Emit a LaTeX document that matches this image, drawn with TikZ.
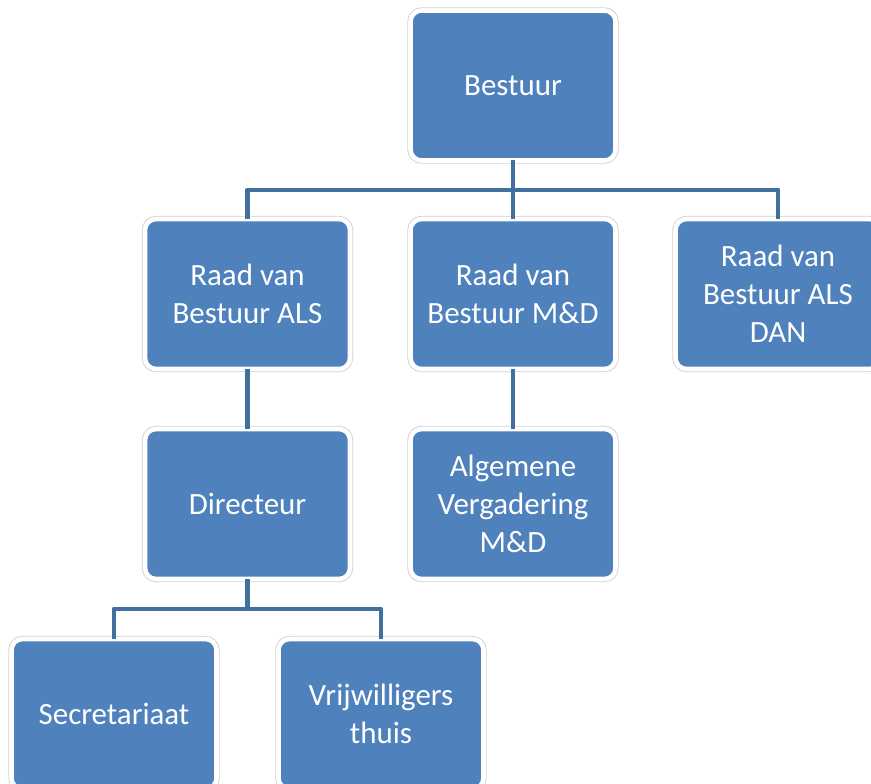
\documentclass[tikz,border=0pt]{standalone}
\usepackage{fontspec}
\setmainfont{Carlito}
\definecolor{boxblue}{HTML}{4F81BD}
\definecolor{linkblue}{HTML}{41709F}
\begin{document}
\begin{tikzpicture}[line join=round,line cap=rect,
	box/.style={fill=boxblue,draw=white,line width=2.6pt,rounded corners=0.22cm,
		minimum width=4.1cm,minimum height=3cm,align=center,text=white,
		font=\fontsize{17.6}{21.5}\selectfont,
		preaction={draw=black!18,line width=3.6pt}},
	link/.style={draw=linkblue,line width=2.8pt}]
			\useasboundingbox (0,0) rectangle (17.42,-15.66);
			\coordinate (bar) at (10.26,-3.80);
			\coordinate (lowbar) at (4.95,-12.18);
			\node[box] (bestuur) at (10.26,-1.71) {Bestuur};
			\node[box] (als) at (4.95,-5.88) {Raad van\\Bestuur ALS};
			\node[box] (md) at (10.26,-5.88) {Raad van\\Bestuur M\&D};
			\node[box] (dan) at (15.56,-5.88) {Raad van\\Bestuur ALS\\DAN};
			\node[box] (dir) at (4.95,-10.08) {Directeur};
			\node[box] (alg) at (10.26,-10.08) {Algemene\\Vergadering\\M\&D};
			\node[box] (sec) at (2.28,-14.28) {Secretariaat};
			\node[box] (vrij) at (7.62,-14.28) {Vrijwilligers\\thuis};
			% connectors
			\draw[link] (bestuur.south) -- (bar);
			\draw[link] (als.north) |- (bar) -| (dan.north);
			\draw[link] (bar) -- (md.north);
			\draw[link] (md.south) -- (alg.north);
			\draw[link] (als.south) -- (dir.north);
			\draw[link] (dir.south) -- (lowbar);
			\draw[link] (sec.north) |- (lowbar) -| (vrij.north);
		\end{tikzpicture}
\end{document}
